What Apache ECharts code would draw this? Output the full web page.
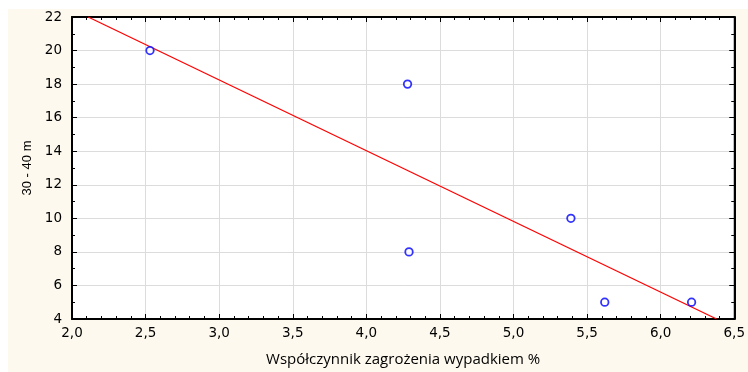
<!DOCTYPE html>
<html>
<head>
<meta charset="utf-8">
<script src="https://cdn.jsdelivr.net/npm/echarts@6/dist/echarts.min.js"></script>
<style>
  html, body { margin: 0; padding: 0; background: #fff; }
  #chart { width: 748px; height: 372px; }
</style>
</head>
<body>
<div id="chart"></div>
<script>
// punkty pomiarowe
const xValues = [2.53, 4.28, 4.29, 5.39, 5.62, 6.21];
const yValues = [20, 18, 8, 10, 5, 5];
// linia dopasowania (końce)
const fitX = [2.11, 6.38];
const fitY = [22, 4];

const xName = 'Współczynnik zagrożenia wypadkiem %';
const yName = '30 - 40 m';

const points = xValues.map((x, i) => [x, yValues[i]]);
const fitLine = fitX.map((x, i) => [x, fitY[i]]);

const chart = echarts.init(document.getElementById('chart'));

const tickFont = {
  color: '#000',
  fontFamily: 'DejaVu Sans, sans-serif',
  fontSize: 13.5,
};

const option = {
  animation: false,
  graphic: [
    {
      type: 'rect',
      z: -10,
      shape: { x: 8, y: 9, width: 740, height: 363 },
      style: { fill: '#fdf9ee' },
    },
  ],
  grid: {
    left: 72,
    top: 17,
    right: 12,
    bottom: 53,
    show: true,
    backgroundColor: '#fff',
    borderColor: '#000',
    borderWidth: 1,
  },
  xAxis: [
    {
      type: 'value',
      min: 2,
      max: 6.5,
      interval: 0.5,
      name: xName,
      nameLocation: 'middle',
      nameGap: 33,
      nameTextStyle: {
        color: '#000',
        fontFamily: 'Open Sans, sans-serif',
        fontSize: 15,
      },
      axisLine: { onZero: false, lineStyle: { color: '#000', width: 2 } },
      axisTick: { inside: true, length: 5, lineStyle: { color: '#000' } },
      minorTick: { show: true, splitNumber: 5, length: 3, lineStyle: { color: '#000' } },
      splitLine: { show: true, lineStyle: { color: '#dcdcdc' } },
      axisLabel: {
        ...tickFont,
        margin: 7,
        formatter: (v) => v.toFixed(1).replace('.', ','),
      },
    },
    {
      type: 'value',
      position: 'top',
      min: 2,
      max: 6.5,
      interval: 0.5,
      axisLine: { onZero: false, lineStyle: { color: '#000', width: 2 } },
      axisTick: { inside: true, length: 5, lineStyle: { color: '#000' } },
      minorTick: { show: true, splitNumber: 5, length: 3, lineStyle: { color: '#000' } },
      splitLine: { show: false },
      axisLabel: { show: false },
    },
  ],
  yAxis: [
    {
      type: 'value',
      min: 4,
      max: 22,
      interval: 2,
      name: yName,
      nameLocation: 'middle',
      nameGap: 38,
      nameTextStyle: {
        color: '#000',
        fontFamily: 'Liberation Sans, Arial, sans-serif',
        fontSize: 13,
      },
      axisLine: { onZero: false, lineStyle: { color: '#000', width: 2 } },
      axisTick: { inside: true, length: 5, lineStyle: { color: '#000' } },
      minorTick: { show: true, splitNumber: 2, length: 3, lineStyle: { color: '#000' } },
      splitLine: { show: true, lineStyle: { color: '#dcdcdc' } },
      axisLabel: { ...tickFont, margin: 10 },
    },
    {
      type: 'value',
      position: 'right',
      min: 4,
      max: 22,
      interval: 2,
      axisLine: { onZero: false, lineStyle: { color: '#000', width: 2 } },
      axisTick: { inside: true, length: 5, lineStyle: { color: '#000' } },
      minorTick: { show: true, splitNumber: 2, length: 3, lineStyle: { color: '#000' } },
      splitLine: { show: false },
      axisLabel: { show: false },
    },
  ],
  series: [
    {
      type: 'line',
      data: fitLine,
      symbol: 'none',
      clip: true,
      lineStyle: { color: '#ff0000', width: 1.3 },
      z: 2,
    },
    {
      type: 'scatter',
      data: points,
      symbol: 'circle',
      symbolSize: 7.5,
      itemStyle: { color: '#fff', borderColor: '#0000ff', borderWidth: 1.8 },
      z: 3,
    },
  ],
};

chart.setOption(option);
</script>
</body>
</html>
